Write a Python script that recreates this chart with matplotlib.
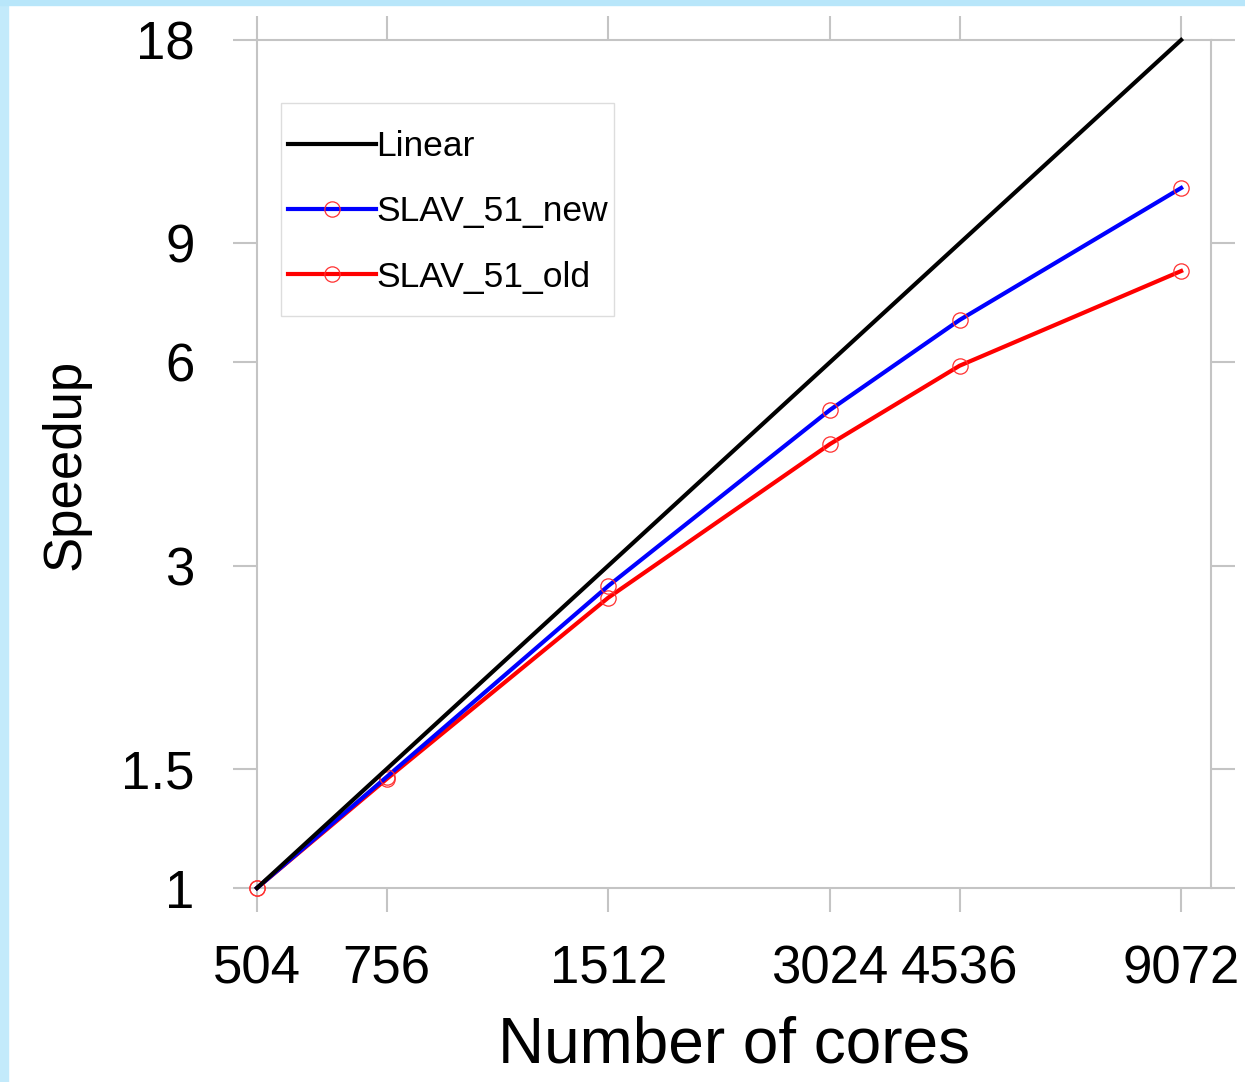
import numpy as np
import matplotlib.pyplot as plt
from matplotlib.patches import Rectangle

plt.rcParams['font.family'] = ['Liberation Sans', 'DejaVu Sans']

# data
cores = [504, 756, 1512, 3024, 4536, 9072]
linear = [1, 1.5, 3, 6, 9, 18]
slav_new = [1, 1.46, 2.80, 5.10, 6.93, 10.87]
slav_old = [1, 1.45, 2.69, 4.54, 5.93, 8.19]
y_ticks = [1, 1.5, 3, 6, 9, 18]
y_tick_labels = ['1', '1.5', '3', '6', '9', '18']

grey = '#c4c4c4'

fig = plt.figure(figsize=(12.45, 10.82), dpi=100)
fig.patch.set_facecolor('white')

# light blue slide background showing at the edges
fig.patches.append(Rectangle((0, 0), 8 / 1245, 1, transform=fig.transFigure,
                             color='#c3eafb', zorder=-1))
fig.patches.append(Rectangle((0, 1 - 5 / 1082), 1, 5 / 1082, transform=fig.transFigure,
                             color='#b8e6fa', zorder=-1))

ax = fig.add_axes([257 / 1245, 194 / 1082, 954 / 1245, 848 / 1082])

marker_style = dict(marker='o', markersize=11, markerfacecolor='none',
                    markeredgecolor='#ff3030', markeredgewidth=0.9, clip_on=False)

ax.plot(cores, slav_old, color='red', lw=3, label='SLAV_51_old', zorder=3, **marker_style)
ax.plot(cores, slav_new, color='blue', lw=3, label='SLAV_51_new', zorder=4, **marker_style)
ax.plot(cores, linear, color='black', lw=3, label='Linear', zorder=5, clip_on=False)

ax.set_xscale('log')
ax.set_yscale('log')
ax.set_xlim(504, 9960)
ax.set_ylim(1, 18)

ax.set_xticks(cores)
ax.set_xticklabels([str(c) for c in cores])
ax.set_yticks(y_ticks)
ax.set_yticklabels(y_tick_labels)
ax.minorticks_off()

ax.tick_params(axis='both', which='major', direction='out', length=17, width=1.5,
               color=grey, labelsize=38, top=True, right=True)
ax.tick_params(axis='x', pad=24)
ax.tick_params(axis='y', pad=28)

for sp in ax.spines.values():
    sp.set_color(grey)
    sp.set_linewidth(1.5)

ax.set_xlabel('Number of cores', fontsize=46, labelpad=15)
ax.set_ylabel('Speedup', fontsize=38, labelpad=22)

# legend: entries without frame, frame drawn as a separate box
handles, labels = ax.get_legend_handles_labels()
order = [2, 1, 0]
leg = ax.legend([handles[i] for i in order], [labels[i] for i in order],
                loc='center left', bbox_to_anchor=(0.0325, 0.7972), borderaxespad=0,
                fontsize=25.5, handlelength=2.49, handletextpad=0.0, labelspacing=0.915,
                borderpad=0, numpoints=1, frameon=False)
leg.set_zorder(7)
ax.add_patch(Rectangle((0.0252, 0.6745), 0.349, 0.2512, transform=ax.transAxes,
                       facecolor='white', edgecolor='#dddddd', lw=1.0, zorder=6))

fig.savefig('out.png', dpi=100)
